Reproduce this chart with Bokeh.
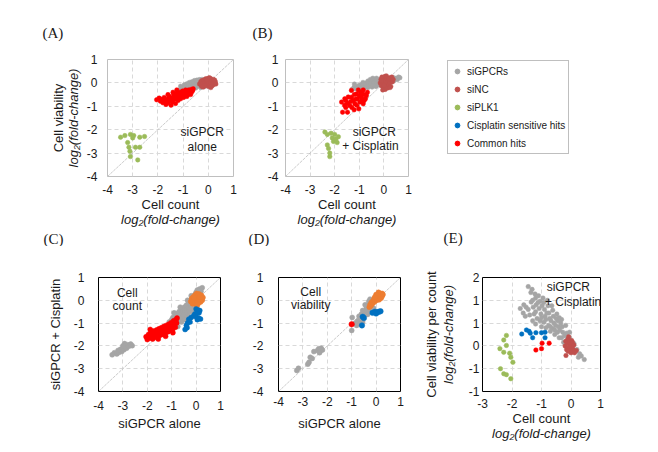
from bokeh.plotting import figure
from bokeh.models import LinearAxis, FixedTicker, Range1d, Label, Legend, LegendItem
from bokeh.layouts import row, column
from bokeh.embed import file_html
from bokeh.resources import INLINE
from bokeh.core.properties import value

# ---------------- colours ----------------
C_GPCR = "#A5A5A5"
C_NC = "#C0504D"
C_PLK = "#9BBB59"
C_CIS = "#0070C0"
C_COM = "#FF0000"
C_ORG = "#ED7D31"

# ---------------- axis ticks / labels ----------------
ticks_std = [-4, -3, -2, -1, 0, 1]
labels_std = ["-4", "-3", "-2", "-1", "0", "1"]
E_xticks = [-3, -2, -1, 0, 1]
E_xlabels = ["-3", "-2", "-1", "0", "1"]
E_yticks = [-1, -0.5, 0, 0.5, 1, 1.5]
E_ylabels = ["-1", "-1", "0", "1", "1", "2"]

legend_labels = ["siGPCRs", "siNC", "siPLK1", "Cisplatin sensitive hits", "Common hits"]
legend_colors = [C_GPCR, C_NC, C_PLK, C_CIS, C_COM]

# ---------------- data: panel A (cell count vs viability, siGPCR alone) ----------------
A_gpcr = [(-1.15,-0.3),(-1.05,-0.2),(-1.0,-0.28),(-0.95,-0.15),(-0.9,-0.22),(-0.88,-0.3),(-0.85,-0.1),
          (-0.8,-0.18),(-0.78,-0.25),(-0.75,-0.06),(-0.72,-0.2),(-0.7,-0.12),(-0.68,-0.02),(-0.65,-0.22),
          (-0.62,-0.08),(-0.6,0.02),(-0.58,-0.15),(-0.55,-0.05),(-0.52,-0.18),(-0.5,0.05),(-0.48,-0.1),
          (-0.45,0.0),(-0.42,-0.14),(-0.4,0.08),(-0.38,-0.06),(-0.35,-0.12),(-0.32,0.1),(-0.3,0.0),
          (-0.28,-0.1),(-0.25,0.06),(-0.22,-0.04),(-0.2,0.12),(-0.18,-0.02),(-0.15,0.08),(-0.12,-0.06),
          (-0.1,0.14),(-0.08,0.02),(-0.55,0.1),(-0.45,0.12),(-0.35,0.14),(-0.25,0.15),(-0.65,0.05),
          (-0.75,0.02),(-0.85,-0.04),(-0.95,-0.08),(-1.1,-0.14),(-0.5,-0.22),(-0.3,-0.2),(-0.15,-0.15)]
A_nc = [(-0.35,-0.05),(-0.3,0.05),(-0.28,-0.12),(-0.25,0.1),(-0.22,-0.02),(-0.2,-0.18),(-0.18,0.12),
        (-0.15,0.02),(-0.12,-0.1),(-0.1,0.18),(-0.08,0.05),(-0.05,-0.05),(-0.02,0.1),(0.0,-0.15),
        (0.0,0.2),(0.02,0.0),(0.05,0.12),(0.05,-0.1),(0.08,0.05),(0.1,-0.2),(0.1,0.18),(0.12,-0.02),
        (0.15,0.1),(0.15,-0.12),(0.18,0.02),(0.2,0.15),(0.2,-0.08),(0.22,0.05),(0.25,-0.02),(0.25,0.12),
        (0.28,0.05),(-0.05,0.15),(0.05,0.22),(-0.15,-0.12),(0.1,-0.15),(-0.25,-0.15),(0.3,-0.05)]
A_plk = [(-3.48,-2.32),(-3.31,-2.25),(-3.09,-2.2),(-2.96,-2.25),(-2.72,-2.32),(-2.53,-2.29),
         (-3.15,-2.75),(-3.11,-2.92),(-2.89,-2.75),(-2.72,-2.75),(-3.09,-3.15),(-2.8,-3.29),
         (-3.2,-2.55),(-3.0,-2.35)]
A_com = [(-2.05,-0.72),(-1.95,-0.65),(-1.9,-0.78),(-1.85,-0.7),(-1.8,-0.85),(-1.75,-0.62),(-1.72,-0.78),
         (-1.68,-0.92),(-1.62,-0.7),(-1.6,-0.85),(-1.55,-0.58),(-1.5,-0.75),(-1.48,-0.95),(-1.45,-0.65),
         (-1.42,-0.82),(-1.38,-0.5),(-1.35,-0.7),(-1.32,-0.6),(-1.3,-0.88),(-1.25,-0.45),(-1.22,-0.62),
         (-1.2,-0.75),(-1.15,-0.52),(-1.12,-0.4),(-1.1,-0.68),(-1.05,-0.55),(-1.02,-0.35),(-1.0,-0.48),
         (-0.98,-0.62),(-0.95,-0.4),(-0.92,-0.52),(-0.9,-0.3),(-0.88,-0.45),(-0.85,-0.58),(-0.82,-0.38),
         (-0.8,-0.48),(-0.78,-0.3),(-0.75,-0.42),(-0.72,-0.35),(-0.7,-0.5),(-0.68,-0.28),(-0.65,-0.38),
         (-0.62,-0.32),(-0.6,-0.25),(-1.4,-0.4),(-1.6,-0.5),(-1.25,-0.3)]

# ---------------- data: panel B (siGPCR + cisplatin) ----------------
B_gpcr = [(-1.3,-0.28),(-1.22,-0.2),(-1.15,-0.25),(-1.1,-0.15),(-1.05,-0.22),(-1.0,-0.1),(-0.95,-0.18),
          (-0.9,-0.25),(-0.88,-0.05),(-0.82,-0.15),(-0.8,-0.22),(-0.75,-0.08),(-0.72,0.0),(-0.7,-0.15),
          (-0.65,-0.2),(-0.62,-0.05),(-0.6,0.05),(-0.55,-0.12),(-0.52,-0.02),(-0.5,0.08),(-0.48,-0.18),
          (-0.45,-0.05),(-0.42,0.05),(-0.4,-0.12),(-0.38,0.1),(-0.35,-0.02),(-0.32,-0.15),(-0.3,0.08),
          (-0.28,0.0),(-0.25,0.12),(-0.22,-0.08),(-0.2,0.05),(-0.18,0.15),(-0.15,-0.02),(-0.12,0.1),
          (-0.1,-0.1),(0.25,0.1),(0.3,0.18),(0.32,0.05),(0.35,0.15),(0.4,0.22),(0.42,0.1),(0.45,0.18),
          (0.5,0.2),(0.55,0.15),(0.6,0.25),(0.65,0.22),(-0.65,0.08),(-0.85,0.02),(-1.2,-0.05),
          (-0.45,0.2),(-0.3,0.2),(-0.05,0.18),(-0.55,0.15)]
B_nc = [(-0.15,0.0),(-0.12,0.15),(-0.1,-0.12),(-0.08,0.25),(-0.05,0.05),(-0.02,-0.2),(0.0,0.12),
        (0.02,-0.05),(0.05,0.28),(0.05,-0.28),(0.08,0.08),(0.1,-0.12),(0.12,0.18),(0.15,0.0),
        (0.15,-0.22),(0.18,0.1),(0.2,-0.08),(0.22,0.22),(0.25,0.02),(0.28,-0.15),(0.3,0.12),
        (0.32,0.25),(0.35,0.05),(0.38,0.15),(-0.1,0.1),(0.0,-0.1),(0.1,0.3),(0.2,0.18),(0.25,-0.2),
        (-0.05,-0.3)]
B_plk = [(-2.4,-2.1),(-2.3,-2.2),(-2.15,-2.15),(-2.0,-2.2),(-1.85,-2.3),(-2.1,-2.35),(-2.05,-2.5),
         (-1.9,-2.55),(-2.3,-2.65),(-2.25,-2.8),(-2.2,-3.0),(-2.2,-3.15),(-1.95,-2.4)]
B_com = [(-1.72,-0.82),(-1.59,-0.68),(-1.48,-0.87),(-1.39,-0.97),(-1.32,-0.61),(-1.25,-0.75),
         (-1.18,-0.89),(-1.11,-0.47),(-1.07,-0.68),(-1.02,-1.11),(-0.98,-0.82),(-0.91,-0.61),
         (-0.88,-0.47),(-0.84,-0.89),(-0.8,-0.75),(-0.75,-0.68),(-0.71,-0.54),(-0.67,-0.4),
         (-1.21,-1.15),(-1.48,-1.25),(-1.68,-1.25),(-1.32,-0.32),(-1.04,-0.3),(-0.84,-0.3),
         (-1.6,-0.95),(-1.55,-0.75),(-1.45,-0.6),(-1.35,-0.8),(-1.15,-0.7),(-1.0,-0.55),(-0.95,-0.4),
         (-0.9,-0.75),(-1.2,-0.5),(-0.78,-0.5),(-1.1,-0.95),(-1.3,-1.05),(-1.55,-1.05)]

# ---------------- data: panel C (cell count: alone vs + cisplatin) ----------------
C_gpcr = [(-1.15,-1.1),(-1.1,-0.95),(-1.05,-1.2),(-1.0,-0.85),(-0.98,-1.05),(-0.95,-0.75),(-0.9,-0.95),
          (-0.88,-1.15),(-0.85,-0.7),(-0.82,-0.85),(-0.8,-1.0),(-0.78,-0.6),(-0.75,-0.78),(-0.72,-0.92),
          (-0.7,-0.5),(-0.68,-0.68),(-0.65,-0.85),(-0.62,-0.45),(-0.6,-0.6),(-0.58,-0.75),(-0.55,-0.38),
          (-0.52,-0.55),(-0.5,-0.7),(-0.48,-0.3),(-0.45,-0.48),(-0.42,-0.62),(-0.4,-0.22),(-0.38,-0.4),
          (-0.35,-0.55),(-0.32,-0.15),(-0.3,-0.32),(-0.28,-0.48),(-0.25,-0.05),(-0.22,-0.25),(-0.2,-0.4),
          (-0.18,0.05),(-0.15,-0.15),(-0.12,-0.3),(-0.1,0.15),(-0.08,-0.05),(-0.05,0.25),(-0.02,0.1),
          (0.0,0.35),(0.05,0.45),(0.1,0.3),(0.15,0.5),(0.2,0.4),(-0.6,-0.95),(-0.45,-0.85),(-0.3,-0.7),
          (-0.9,-0.55),(-0.65,-0.3),(-0.35,0.0),(-0.2,0.2),(-1.2,-1.2),(-0.75,-1.15),(-0.15,-0.5),
          (-0.05,-0.25),(0.25,0.55),
          (-3.44,-2.39),(-3.35,-2.3),(-3.25,-2.35),(-3.17,-2.29),(-3.1,-2.15),(-3.05,-2.25),(-2.96,-2.17),
          (-2.93,-1.9),(-2.9,-2.05),(-2.85,-2.1),(-2.8,-1.95),(-2.76,-2.02),(-2.68,-1.92),(-2.62,-1.99),
          (-3.0,-2.0),(-3.2,-2.2)]
C_org = [(-0.22,-0.05),(-0.18,0.08),(-0.15,-0.15),(-0.12,0.15),(-0.1,0.0),(-0.05,-0.1),(-0.05,0.22),
         (0.0,0.05),(0.0,-0.2),(0.02,0.3),(0.05,0.12),(0.05,-0.05),(0.08,0.2),(0.1,-0.12),(0.1,0.05),
         (0.12,0.28),(0.15,0.0),(0.15,0.15),(0.18,-0.08),(0.2,0.1),(0.22,0.22),(0.25,0.0),(0.28,0.12),
         (-0.08,0.1),(0.05,-0.22)]
C_cis = [(0.0,-0.38),(0.08,-0.42),(0.15,-0.45),(0.12,-0.55),(0.05,-0.5),(-0.05,-0.6),(-0.1,-0.68),
         (0.0,-0.72),(0.1,-0.78),(0.18,-0.82),(0.05,-0.85),(-0.2,-0.75),(-0.3,-0.83),(-0.25,-0.95),
         (-0.35,-1.0),(-0.4,-1.1),(-0.37,-1.2),(-0.45,-1.28)]
C_com = [(-2.05,-1.6),(-2.0,-1.72),(-1.95,-1.5),(-1.9,-1.65),(-1.85,-1.4),(-1.82,-1.55),(-1.78,-1.7),
         (-1.75,-1.35),(-1.7,-1.5),(-1.65,-1.62),(-1.62,-1.3),(-1.6,-1.45),(-1.55,-1.58),(-1.52,-1.25),
         (-1.5,-1.4),(-1.45,-1.52),(-1.42,-1.2),(-1.4,-1.35),(-1.35,-1.48),(-1.32,-1.15),(-1.3,-1.3),
         (-1.25,-1.42),(-1.22,-1.1),(-1.2,-1.25),(-1.15,-1.38),(-1.12,-1.05),(-1.1,-1.2),(-1.05,-1.32),
         (-1.02,-0.98),(-1.0,-1.15),(-0.95,-1.25),(-0.92,-0.9),(-0.9,-1.05),(-0.85,-1.18),(-0.82,-0.85),
         (-0.8,-1.0),(-0.78,-0.78),(-1.88,-1.28),(-1.55,-1.7),(-1.25,-1.58),(-0.95,-1.42)]

# ---------------- data: panel D (cell viability: alone vs + cisplatin) ----------------
D_gpcr = [(-3.25,-3.08),(-3.18,-2.98),(-2.8,-2.8),(-2.75,-2.72),(-2.62,-2.55),(-2.7,-2.5),(-2.55,-2.25),
          (-2.4,-2.2),(-2.35,-2.12),(-2.3,-2.25),(-2.25,-2.1),(-2.2,-2.18),(-2.32,-2.3),(-1.0,-1.32),
          (-0.98,-0.75),(-0.85,-1.0),(-0.8,-1.1),(-0.75,-0.9),(-0.65,-0.82),(-0.65,-1.02),(-0.55,-0.95),
          (-0.5,-0.65),(-0.45,-0.55),(-0.4,-0.35),(-0.38,-0.48),(-0.3,-0.2),(-0.35,-0.62),(-0.25,-0.4),
          (-0.2,-0.3),(-0.3,-0.05),(-0.45,-0.2),(-0.15,-0.42),(-0.55,-0.45),(-0.6,-0.6),(-0.7,-0.7),
          (-0.25,0.05),(-0.1,-0.35)]
D_org = [(-0.28,-0.3),(-0.25,-0.2),(-0.22,-0.25),(-0.2,-0.1),(-0.18,-0.18),(-0.15,-0.05),(-0.12,-0.12),
         (-0.1,0.0),(-0.08,0.08),(-0.05,-0.05),(-0.02,0.05),(0.0,0.12),(0.02,0.0),(0.05,0.18),(0.05,0.08),
         (0.08,0.22),(0.1,0.1),(0.12,0.28),(0.12,0.02),(0.15,0.18),(0.18,0.3),(0.18,0.08),(0.2,0.22),
         (0.22,0.12),(0.25,0.3),(0.25,0.2),(0.28,0.25),(0.1,0.35),(0.0,0.25),(-0.05,0.15)]
D_cis = [(-0.55,-0.72),(-0.5,-0.78),(-0.15,-0.55),(-0.05,-0.5),(0.05,-0.52),(0.12,-0.5),(0.18,-0.48),
         (0.0,-0.58),(-0.58,-1.1)]
D_com = [(-1.0,-1.05)]

# ---------------- data: panel E (cell count vs viability per count, + cisplatin) ----------------
E_gpcr = [(-1.45,1.3),(-1.32,1.24),(-1.36,1.17),(-1.22,1.14),(-1.1,1.1),(-1.35,0.96),(-1.72,0.82),
          (-1.62,0.72),(-1.52,0.85),(-1.6,0.9),(-1.45,0.8),(-1.4,0.68),(-1.55,0.65),
          (-1.3,1.0),(-1.28,0.85),(-1.25,0.7),(-1.3,0.55),(-1.2,1.05),(-1.18,0.9),(-1.2,0.75),(-1.15,0.6),
          (-1.2,0.48),(-1.05,0.98),(-1.08,0.82),(-1.02,0.7),(-1.05,0.55),(-1.0,0.42),(-0.92,0.95),
          (-0.9,0.8),(-0.88,0.65),(-0.92,0.52),(-0.85,0.4),(-0.78,0.88),(-0.75,0.72),(-0.72,0.6),
          (-0.76,0.45),(-0.7,0.32),(-0.62,0.78),(-0.6,0.65),(-0.58,0.5),(-0.62,0.38),(-0.55,0.25),
          (-0.48,0.7),(-0.45,0.55),(-0.42,0.42),(-0.46,0.3),(-0.4,0.18),(-0.32,0.58),(-0.3,0.42),
          (-0.28,0.3),(-0.32,0.18),(-0.25,0.08),(-0.18,0.45),(-0.15,0.28),(-0.12,0.15),(-0.18,0.05),
          (-0.05,0.3),(0.0,0.1),(0.05,-0.05),(0.1,0.05),(0.15,-0.12),(0.2,-0.08),(0.29,-0.17),
          (0.35,-0.22),(0.45,-0.3),(0.25,-0.25),(-1.12,0.95),(-0.98,0.88),(-0.82,0.72),(-0.68,0.55),
          (-0.52,0.45),(-0.38,0.35),(-0.22,0.22),(-1.0,0.62),(-0.85,0.58),(-0.7,0.42),(-0.55,0.35),
          (-0.65,0.88),(-0.5,0.6),(-0.35,0.5),(-0.8,1.0),(-0.95,1.05),(-0.05,0.18),(-0.4,0.62)]
E_nc = [(-0.2,0.0),(-0.18,0.1),(-0.15,-0.08),(-0.12,0.05),(-0.1,0.15),(-0.08,-0.05),(-0.05,0.08),
        (-0.02,-0.12),(0.0,0.02),(0.02,0.12),(0.05,-0.05),(0.05,0.08),(0.08,-0.1),(0.1,0.02),
        (-0.05,-0.02),(-0.1,-0.12),(0.0,-0.15),(-0.17,-0.21),(0.18,-0.1),(-0.08,0.2),(0.12,-0.15)]
E_plk = [(-2.19,0.23),(-2.28,0.13),(-2.41,-0.06),(-2.19,0.01),(-2.28,-0.14),(-2.08,-0.16),(-2.04,-0.25),
         (-1.97,-0.36),(-2.39,-0.5),(-2.28,-0.61),(-2.19,-0.63),(-2.04,-0.72)]
E_cis = [(-1.67,0.26),(-1.51,0.35),(-1.42,0.32),(-1.38,0.28),(-1.3,0.18),(-1.19,0.29),(-1.0,0.29),
         (-0.88,0.18),(-0.88,0.3)]
E_com = [(-1.19,-0.09),(-1.0,-0.06),(-0.98,0.06),(-0.74,0.06)]

# in-panel captions: (text, x, y)
A_text = [("siGPCR", -0.24, -2.1), ("alone", -0.24, -2.74)]
B_text = [("siGPCR", -0.39, -2.1), ("+ Cisplatin", -0.55, -2.7)]
C_text = [("Cell", -2.82, 0.31), ("count", -2.82, -0.27)]
D_text = [("Cell", -2.68, 0.38), ("viability", -2.68, -0.2)]
E_text = [("siGPCR", -0.09, 1.29), ("+ Cisplatin", 0.07, 0.97)]
# panel letters, drawn in thin header strips (pixel-like coordinates of the strip)
row1_letters = ["(A)", "(B)"]
row1_letter_x = [42, 252]
row1_letter_y = [12, 12]
row2_letters = ["(C)", "(D)", "(E)"]
row2_letter_x = [43, 248, 443]
row2_letter_y = [8, 8, 9]

FONT = "Liberation Sans"
TXT = "#1a1a1a"
LOG2 = "log\u2082(fold-change)"


def xs(pts):
    return [p[0] for p in pts]


def ys(pts):
    return [p[1] for p in pts]


def style_axis(ax, ticks, labels, standoff, label=None, italic=False, lstand=0):
    ax.ticker = FixedTicker(ticks=ticks)
    ax.major_label_overrides = {float(t): l for t, l in zip(ticks, labels)}
    ax.major_label_standoff = standoff
    ax.major_label_text_font = FONT
    ax.major_label_text_font_size = "12px"
    ax.major_label_text_color = TXT
    ax.major_tick_in = 0
    ax.major_tick_out = 0
    ax.minor_tick_in = 0
    ax.minor_tick_out = 0
    ax.major_tick_line_color = None
    ax.minor_tick_line_color = None
    ax.axis_line_color = None
    if label:
        ax.axis_label = label
        ax.axis_label_text_font = FONT
        ax.axis_label_text_font_size = "13px"
        ax.axis_label_text_font_style = "italic" if italic else "normal"
        ax.axis_label_text_color = TXT
        ax.axis_label_standoff = lstand


def label_axis(p, side, text, italic, lstand):
    ax = LinearAxis(ticker=FixedTicker(ticks=[]), axis_label=text,
                    axis_line_color=None, major_tick_line_color=None, minor_tick_line_color=None,
                    major_tick_in=0, major_tick_out=0, minor_tick_in=0, minor_tick_out=0,
                    major_label_standoff=0, axis_label_standoff=lstand,
                    axis_label_text_font=FONT, axis_label_text_font_size="13px",
                    axis_label_text_font_style="italic" if italic else "normal",
                    axis_label_text_color=TXT)
    p.add_layout(ax, side)


def panel(w, h, bl, br, bt, bb, xr, yr, outline):
    p = figure(width=w, height=h, min_border_left=bl, min_border_right=br,
               min_border_top=bt, min_border_bottom=bb, x_range=Range1d(*xr), y_range=Range1d(*yr),
               output_backend="svg", toolbar_location=None)
    p.outline_line_color = outline
    p.outline_line_width = 1
    p.background_fill_color = "white"
    p.border_fill_color = "white"
    for g in (p.xgrid[0], p.ygrid[0]):
        g.grid_line_color = "#D9D9D9"
        g.grid_line_dash = "4 3"
        g.grid_line_width = 1
    return p


def strip(h, letters, lx, ly):
    s = figure(width=650, height=h, x_range=Range1d(0, 650), y_range=Range1d(0, h), min_border=0,
               x_axis_type=None, y_axis_type=None, output_backend="svg", toolbar_location=None)
    s.outline_line_color = None
    s.text(x=lx, y=ly, text=letters, text_font=value("Liberation Serif"), text_font_size="15px",
           text_align="left", text_baseline="middle", text_color=TXT)
    return s


def dots(p, pts, color, size):
    p.scatter(xs(pts), ys(pts), size=size, fill_color=color, line_color=color, line_width=0.5)


def diag(p):
    p.line([-4, 1], [-4, 1], line_color="#BDBDBD", line_width=0.8, line_dash="3 1")


def captions(p, items):
    for t, x, y in items:
        p.add_layout(Label(x=x, y=y, text=t, text_align="center", text_baseline="middle",
                           text_font=FONT, text_font_size="12px", text_color=TXT))


# ---------- header strips ----------
s1 = strip(44, row1_letters, row1_letter_x, row1_letter_y)
s2 = strip(16, row2_letters, row2_letter_x, row2_letter_y)

# ---------- Panel A ----------
pA = panel(250, 186, 107, 17, 15, 54, (-4, 1), (-4, 1), "#BFBFBF")
style_axis(pA.yaxis[0], ticks_std, labels_std, 10, LOG2, True, 3)
label_axis(pA, "left", "Cell viability", False, -3)
style_axis(pA.xaxis[0], ticks_std, labels_std, 8, "Cell count", False, 0)
label_axis(pA, "below", LOG2, True, -3)
diag(pA)
dots(pA, A_gpcr, C_GPCR, 4.5)
dots(pA, A_nc, C_NC, 4.5)
dots(pA, A_plk, C_PLK, 4.5)
dots(pA, A_com, C_COM, 4.5)
captions(pA, A_text)

# ---------- Panel B ----------
pB = panel(180, 186, 35, 22, 15, 54, (-4, 1), (-4, 1), "#BFBFBF")
style_axis(pB.yaxis[0], ticks_std, labels_std, 7)
style_axis(pB.xaxis[0], ticks_std, labels_std, 8, "Cell count", False, 0)
label_axis(pB, "below", LOG2, True, -3)
diag(pB)
dots(pB, B_gpcr, C_GPCR, 4.5)
dots(pB, B_nc, C_NC, 4.5)
dots(pB, B_plk, C_PLK, 4.5)
dots(pB, B_com, C_COM, 4.5)
captions(pB, B_text)

# ---------- Legend (proxy glyphs sit outside the legend figure's visible range) ----------
pL = figure(width=220, height=186, min_border_left=0, min_border_right=0, min_border_top=15,
            min_border_bottom=54, x_axis_type=None, y_axis_type=None,
            x_range=Range1d(0, 1), y_range=Range1d(0, 1), output_backend="svg", toolbar_location=None)
pL.outline_line_color = None
items = []
for name, col in zip(legend_labels, legend_colors):
    r = pL.scatter(x=[-5], y=[-5], size=5, fill_color=col, line_color=col)
    items.append(LegendItem(label=name, renderers=[r]))
leg = Legend(items=items, location=(17, 22), padding=3, spacing=4, margin=0,
             glyph_width=12, glyph_height=14, label_height=14, label_standoff=4,
             label_text_font=FONT, label_text_font_size="10px", label_text_color=TXT,
             border_line_color="#808080", border_line_width=1.5, background_fill_color="white",
             background_fill_alpha=1.0)
pL.add_layout(leg)

# ---------- Panel C ----------
pC = panel(236, 202, 98, 16, 31, 57, (-4, 1), (-4, 1), "black")
style_axis(pC.yaxis[0], ticks_std, labels_std, 14, "siGPCR + Cisplatin", False, 8)
style_axis(pC.xaxis[0], ticks_std, labels_std, 9, "siGPCR alone", False, 3)
diag(pC)
dots(pC, C_gpcr, C_GPCR, 5)
dots(pC, C_org, C_ORG, 5)
dots(pC, C_cis, C_CIS, 5)
dots(pC, C_com, C_COM, 5)
captions(pC, C_text)

# ---------- Panel D ----------
pD = panel(184, 202, 42, 20, 31, 57, (-4, 1), (-4, 1), "black")
style_axis(pD.yaxis[0], ticks_std, labels_std, 15)
style_axis(pD.xaxis[0], ticks_std, labels_std, 5, "siGPCR alone", False, 7)
diag(pD)
dots(pD, D_gpcr, C_GPCR, 5)
dots(pD, D_org, C_ORG, 5)
dots(pD, D_cis, C_CIS, 5.5)
dots(pD, D_com, C_COM, 5.5)
captions(pD, D_text)

# ---------- Panel E ----------
pE = panel(230, 202, 58, 50, 31, 57, (-3, 1), (-1, 1.5), "black")
style_axis(pE.yaxis[0], E_yticks, E_ylabels, 3, LOG2, True, 10)
label_axis(pE, "left", "Cell viability per count", False, -1)
style_axis(pE.xaxis[0], E_xticks, E_xlabels, 7, "Cell count", False, 0)
label_axis(pE, "below", LOG2, True, -3)
dots(pE, E_gpcr, C_GPCR, 4.5)
dots(pE, E_nc, C_NC, 4.5)
dots(pE, E_plk, C_PLK, 4.5)
dots(pE, E_cis, C_CIS, 4.5)
dots(pE, E_com, C_COM, 4.5)
captions(pE, E_text)

layout = column(s1, row(pA, pB, pL, spacing=0), s2, row(pC, pD, pE, spacing=0), spacing=0)

open("out.html", "w").write(file_html(layout, INLINE))
